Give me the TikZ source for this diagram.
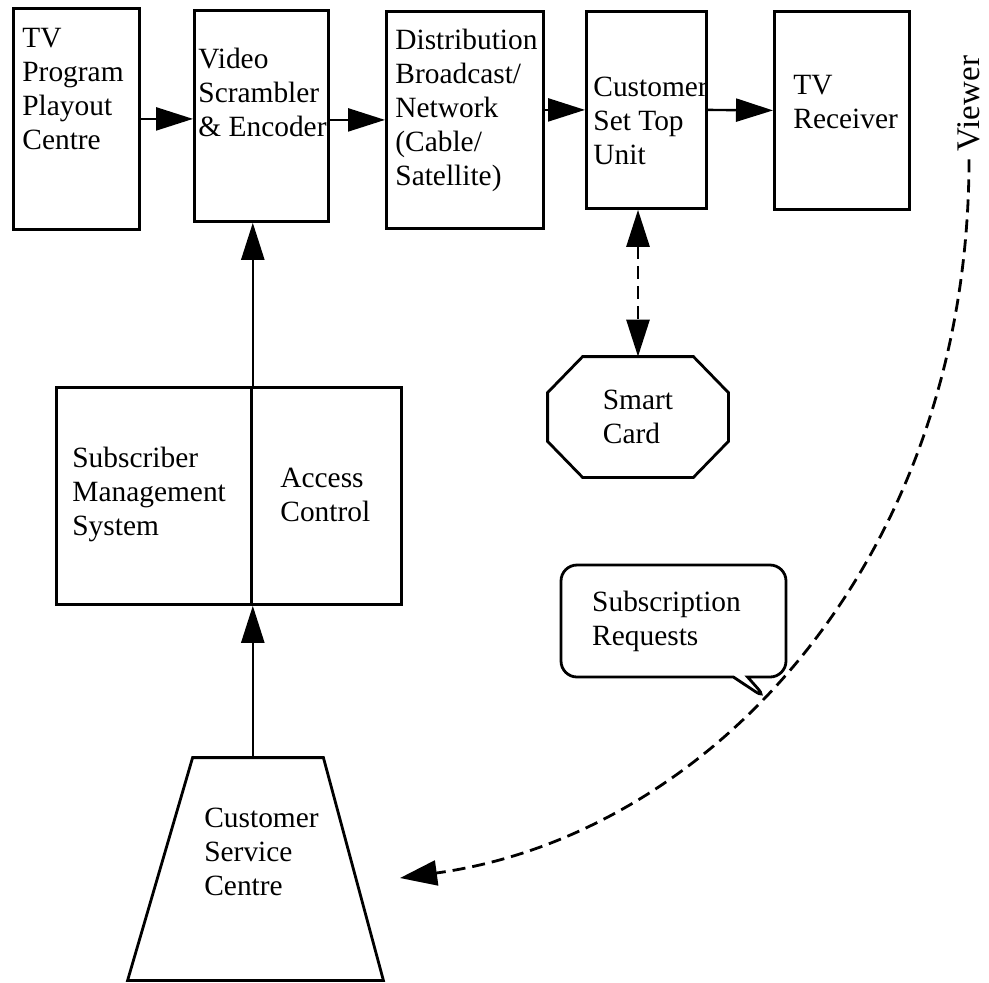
\documentclass[tikz,border=0pt]{standalone}
\usepackage{fontspec}
\setmainfont{Liberation Serif}
\usepackage{tikz}
\usetikzlibrary{positioning,arrows.meta,shapes.callouts}

\begin{document}
\begin{tikzpicture}[x=0.5pt,y=-0.5pt,
  font=\fontsize{14.7}{17}\selectfont,
  blk/.style={draw, line width=1.4pt, rectangle, inner sep=0pt, anchor=north west},
  lbl/.style={anchor=north west, inner sep=0pt, align=left},
  outline/.style={line width=1.4pt, line join=miter},
  flow/.style={line width=1.2pt, -{Triangle[length=18.5pt,width=11.5pt]}},
  bubble/.style={draw, line width=1.4pt, rectangle callout, rounded corners=8pt,
    minimum width=112.5pt, minimum height=56pt, inner sep=0pt, align=left, text width=81.3pt},
  dsh/.style={line width=1.4pt, dash pattern=on 6.5pt off 3.5pt}]
\useasboundingbox (0,0) rectangle (989,982);

\node[blk, minimum width=63pt, minimum height=110.5pt,
  label={[lbl,xshift=5pt,yshift=-10.25pt]north west:{TV\\Program\\Playout\\Centre}}] (tvp) at (12,7) {};
\node[blk, minimum width=67pt, minimum height=105.5pt,
  label={[lbl,xshift=2.5pt,yshift=-19.25pt]north west:{Video\\Scrambler\\\& Encoder}}] (vse) at (193,9) {};
\node[blk, minimum width=78.5pt, minimum height=108.5pt,
  label={[lbl,xshift=5pt,yshift=-9.25pt]north west:{Distribution\\Broadcast/\\Network\\(Cable/\\Satellite)}}] (dist) at (385,10) {};
\node[blk, minimum width=60pt, minimum height=98.5pt,
  label={[lbl,xshift=4pt,yshift=-33.5pt]north west:{Customer\\Set Top\\Unit}}] (stu) at (585,10) {};
\node[blk, minimum width=67.5pt, minimum height=99pt,
  label={[lbl,xshift=10pt,yshift=-32.5pt]north west:{TV\\Receiver}}] (tvr) at (773,10) {};

\node[blk, minimum width=97.5pt, minimum height=108.5pt,
  label={[lbl,xshift=8.5pt,yshift=-30.25pt]north west:{Subscriber\\Management\\System}}] (sms) at (55,386) {};
\node[blk, minimum width=75pt, minimum height=108.5pt,
  label={[lbl,xshift=15pt,yshift=-40.75pt]north west:{Access\\Control}}] (acc) at (250,386) {};

\node[minimum width=127.5pt, minimum height=111pt, inner sep=0pt,
  label={[align=left,inner sep=0pt,xshift=3pt,yshift=8.5pt]center:{Customer\\Service\\Centre}}] (csc) at (255.5,869) {};
\draw[outline] ([xshift=32.5pt]csc.north west) -- ([xshift=-30pt]csc.north east)
  -- (csc.south east) -- (csc.south west) -- cycle;

\node[minimum width=90pt, minimum height=60pt, inner sep=0pt, align=left] (scard) at (638,417) {Smart\\Card};
\draw[outline] ([xshift=17.5pt]scard.north west) -- ([xshift=-17.5pt]scard.north east)
  -- ([yshift=-18pt]scard.north east) -- ([yshift=18pt]scard.south east)
  -- ([xshift=-17.5pt]scard.south east) -- ([xshift=17.5pt]scard.south west)
  -- ([yshift=18pt]scard.south west) -- ([yshift=-18pt]scard.north west) -- cycle;

\coordinate (tail) at (768,700);
\node[bubble, callout absolute pointer={(tail)}] (subreq) at (673.5,621) {Subscription\\Requests};

\node[rotate=90, inner sep=0pt, font=\fontsize{16.5}{19}\selectfont] (viewer) at (969,103.5) {Viewer};
\coordinate (cscin) at (400,878);

\draw[flow] (tvp.east) -- (tvp.east -| vse.west);
\draw[flow] (dist.west -| vse.east) -- (dist.west);
\draw[flow] (stu.west -| dist.east) -- (stu.west);
\draw[flow] (stu.east) -- (tvr.west);
\draw[flow] (sms.north east) -- (sms.north east |- vse.south);
\draw[flow] (csc.north -| sms.south east) -- (sms.south east);
\draw[dsh, {Triangle[length=18.5pt,width=11.5pt]}-{Triangle[length=18.5pt,width=11.5pt]}] (scard.north |- stu.south) -- (scard.north);
\draw[dsh, -{Triangle[length=18.5pt,width=12.5pt]}, shorten <=4pt] (viewer.west) .. controls (969,557) and (712,835) .. (cscin);
\end{tikzpicture}
\end{document}
